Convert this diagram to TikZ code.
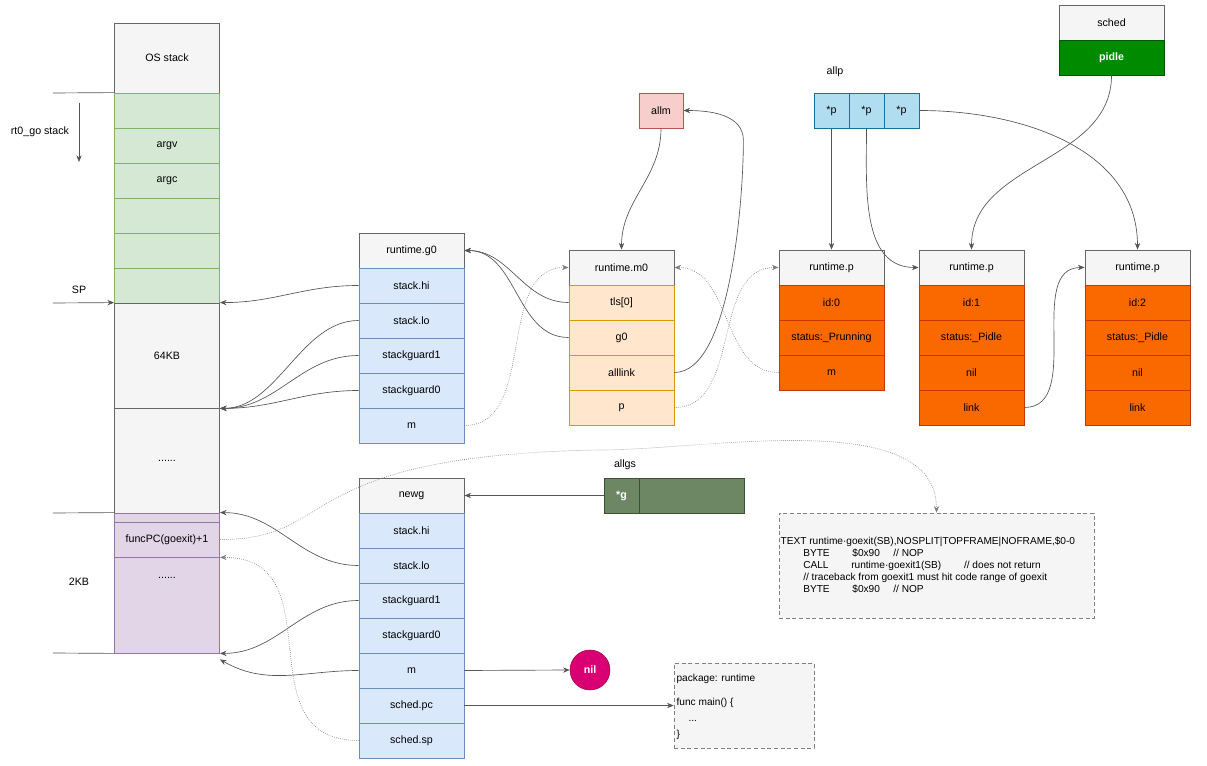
\documentclass[tikz,border=0pt]{standalone}
\usepackage{fontspec}
\setmainfont{Liberation Sans}
\usetikzlibrary{arrows.meta,calc}
\definecolor{hdr}{HTML}{F5F5F5}\definecolor{hdrb}{HTML}{666666}
\definecolor{blu}{HTML}{DAE8FC}\definecolor{blub}{HTML}{6C8EBF}
\definecolor{grn}{HTML}{D5E8D4}\definecolor{grnb}{HTML}{82B366}
\definecolor{lor}{HTML}{FFE6CC}\definecolor{lorb}{HTML}{D79B00}
\definecolor{ora}{HTML}{FA6800}\definecolor{orab}{HTML}{C73500}
\definecolor{pnk}{HTML}{F8CECC}\definecolor{pnkb}{HTML}{B85450}
\definecolor{lbl}{HTML}{B1DDF0}\definecolor{lblb}{HTML}{10739E}
\definecolor{pur}{HTML}{E1D5E7}\definecolor{purb}{HTML}{9673A6}
\definecolor{dgr}{HTML}{6D8764}\definecolor{dgrb}{HTML}{3A5431}
\definecolor{sgr}{HTML}{008A00}\definecolor{sgrb}{HTML}{005700}
\definecolor{mag}{HTML}{D80073}\definecolor{magb}{HTML}{A50040}
\definecolor{ln}{HTML}{555555}
\begin{document}
\begin{tikzpicture}[x=0.75pt,y=-0.75pt,font=\fontsize{8}{10}\selectfont,
 cell/.style={draw,inner sep=0pt,minimum width=78.75pt,minimum height=26.25pt,line width=0.6pt},
 hc/.style={cell,fill=hdr,draw=hdrb},
 bc/.style={cell,fill=blu,draw=blub},
 gc/.style={cell,fill=grn,draw=grnb},
 lc/.style={cell,fill=lor,draw=lorb},
 oc/.style={cell,fill=ora,draw=orab},
 pc/.style={cell,fill=pur,draw=purb},
 conn/.style={draw=ln,line width=0.5pt,-{Stealth[length=5pt,width=4pt]}},
 dconn/.style={conn,densely dotted,draw=gray},
 plain/.style={draw=ln,line width=0.5pt},
 lab/.style={inner sep=1pt}]
\useasboundingbox (0,0) rectangle (1207,766);
% stack column
\node[hc,minimum height=52.5pt] (os) at (167,58) {OS stack};
\node[gc] (g1) at (167,110.5) {};
\node[gc] (g2) at (167,145.5) {argv};
\node[gc] (g3) at (167,180.5) {argc};
\node[gc] (g4) at (167,215.5) {};
\node[gc] (g5) at (167,250.5) {};
\node[gc] (g6) at (167,285.5) {};
\node[hc,minimum height=78.75pt] (s64) at (167,355.5) {64KB};
\node[hc,minimum height=78.75pt] (sdot) at (167,460.5) {......};
\node[pc,minimum height=6.75pt] (pstrip) at (167,517.5) {};
\node[pc] (fpc) at (167,539.5) {funcPC(goexit)+1};
\node[pc,minimum height=72pt] (pdot) at (167,605) {};
\node[lab] at (167,578) {......};
\coordinate (l1) at (53,93); \coordinate (l2) at (53,303);
\coordinate (l3) at (53,513); \coordinate (l4) at (53,653);
\draw[plain] (l1) -- (g1.north west);
\draw[conn] (l2) -- (s64.north west);
\draw[plain] (l3) -- (pstrip.north west);
\draw[plain] (l4) -- (pdot.south west);
\coordinate (ra) at (79,103); \coordinate (rb) at (79,162);
\draw[conn] (ra) -- (rb);
\node[lab] (rt0) at (40,132) {rt0\_go stack};
\node[lab] (sp) at (79,290) {SP};
\node[lab] (kb2) at (79,582) {2KB};
% g0
\node[hc] (g0h) at (411.5,250.5) {runtime.g0};
\node[bc] (g0hi) at (411.5,285.5) {stack.hi};
\node[bc] (g0lo) at (411.5,320.5) {stack.lo};
\node[bc] (g0s1) at (411.5,355.5) {stackguard1};
\node[bc] (g0s0) at (411.5,390.5) {stackguard0};
\node[bc] (g0m) at (411.5,425.5) {m};
% m0
\node[hc] (m0h) at (621.5,267.5) {runtime.m0};
\node[lc] (m0t) at (621.5,302.5) {tls[0]};
\node[lc] (m0g) at (621.5,337.5) {g0};
\node[lc] (m0a) at (621.5,372.5) {alllink};
\node[lc] (m0p) at (621.5,407.5) {p};
% allm
\node[cell,fill=pnk,draw=pnkb,minimum width=33pt] (allm) at (661,110.5) {allm};
% allp
\node[lab] (allplab) at (835,72) {allp};
\node[cell,fill=lbl,draw=lblb,minimum width=26.25pt] (p1) at (831.5,110.5) {*p};
\node[cell,fill=lbl,draw=lblb,minimum width=26.25pt] (p2) at (866.5,110.5) {*p};
\node[cell,fill=lbl,draw=lblb,minimum width=26.25pt] (p3) at (901.5,110.5) {*p};
% sched
\node[hc] (sch) at (1111.5,22.5) {sched};
\node[cell,fill=sgr,draw=sgrb,text=white,font=\fontsize{8}{10}\selectfont\bfseries] (pidle) at (1111.5,57.5) {pidle};
% p0
\node[hc] (q0h) at (831.5,267.5) {runtime.p};
\node[oc] (q0i) at (831.5,302.5) {id:0};
\node[oc] (q0s) at (831.5,337.5) {status:\_Prunning};
\node[oc] (q0m) at (831.5,372.5) {m};
% p1
\node[hc] (q1h) at (971.5,267.5) {runtime.p};
\node[oc] (q1i) at (971.5,302.5) {id:1};
\node[oc] (q1s) at (971.5,337.5) {status:\_Pidle};
\node[oc] (q1n) at (971.5,372.5) {nil};
\node[oc] (q1l) at (971.5,407.5) {link};
% p2
\node[hc] (q2h) at (1137.5,267.5) {runtime.p};
\node[oc] (q2i) at (1137.5,302.5) {id:2};
\node[oc] (q2s) at (1137.5,337.5) {status:\_Pidle};
\node[oc] (q2n) at (1137.5,372.5) {nil};
\node[oc] (q2l) at (1137.5,407.5) {link};
% newg
\node[hc] (ngh) at (411.5,495.5) {newg};
\node[bc] (nghi) at (411.5,530.5) {stack.hi};
\node[bc] (nglo) at (411.5,565.5) {stack.lo};
\node[bc] (ngs1) at (411.5,600.5) {stackguard1};
\node[bc] (ngs0) at (411.5,635.5) {stackguard0};
\node[bc] (ngm) at (411.5,670.5) {m};
\node[bc] (ngpc) at (411.5,705.5) {sched.pc};
\node[bc] (ngsp) at (411.5,740.5) {sched.sp};
% allgs
\node[lab] (allgslab) at (625,465) {allgs};
\node[cell,fill=dgr,draw=dgrb,minimum width=78.75pt] (gsrest) at (691.5,495.5) {};
\node[cell,fill=dgr,draw=dgrb,minimum width=26.25pt,text=white,font=\fontsize{8}{10}\selectfont\bfseries] (gs) at (621.5,495.5) {*g};
% nil
\node[circle,fill=mag,draw=magb,minimum size=30pt,inner sep=0pt,text=white,font=\fontsize{8}{10}\selectfont\bfseries] (nil) at (590,670) {nil};
% code boxes
\node[draw=gray,densely dashed,fill=hdr,minimum width=236.25pt,minimum height=78.75pt,inner sep=0pt] (code1) at (936.5,565.5) {};
\node[anchor=west,align=left,inner sep=1pt,font=\fontsize{7.6}{9}\selectfont] (code1t) at (779,565) {TEXT runtime·goexit(SB),NOSPLIT|TOPFRAME|NOFRAME,\$0-0\\
\hspace*{17pt}BYTE\hspace{17pt}\$0x90\hspace{10pt}// NOP\\
\hspace*{17pt}CALL\hspace{17pt}runtime·goexit1(SB)\hspace{17pt}// does not return\\
\hspace*{17pt}// traceback from goexit1 must hit code range of goexit\\
\hspace*{17pt}BYTE\hspace{17pt}\$0x90\hspace{10pt}// NOP};
\node[draw=gray,densely dashed,fill=hdr,minimum width=105pt,minimum height=63.75pt,inner sep=0pt] (code2) at (744,705.5) {};
\node[anchor=north west,align=left,inner sep=1pt,font=\fontsize{7.6}{12}\selectfont] (code2t) at (675,673) {package: runtime\\[6pt]func main() \{\\\hspace*{9pt}...\\\}};
\coordinate (fk) at (600,450);
% connectors g0
\draw[conn] (g0hi.west) to[out=180,in=0] (s64.north east);
\draw[conn] (g0lo.west) to[out=180,in=0,looseness=0.9] (s64.south east);
\draw[conn] (g0s1.west) to[out=180,in=0] (s64.south east);
\draw[conn] (g0s0.west) to[out=180,in=0] (s64.south east);
\draw[dconn] (g0m.east) to[out=0,in=180] (m0h.west);
\draw[conn] (m0t.west) to[out=180,in=0] (g0h.east);
\draw[conn] (m0g.west) to[out=180,in=0] (g0h.east);
\draw[conn] (allm.south) to[out=270,in=90] (m0h.north);
\draw[conn] (m0a.east) to[out=0,in=270,looseness=0.6] ($(allm.east)+(60,30)$) to[out=90,in=0] (allm.east);
\draw[dconn] (m0p.east) to[out=0,in=180] (q0h.west);
\draw[dconn] (q0m.west) to[out=180,in=0] (m0h.east);
\draw[conn] (p1.south) -- (q0h.north);
\draw[conn] (p2.south) to[out=270,in=180] (q1h.west);
\draw[conn] (p3.east) to[out=0,in=90] (q2h.north);
\draw[conn] (pidle.south) to[out=270,in=90] (q1h.north);
\draw[conn] (q1l.east) to[out=0,in=180] (q2h.west);
% connectors newg
\draw[conn] (nglo.west) to[out=180,in=0] (pstrip.north east);
\draw[conn] (ngs1.west) to[out=180,in=0] (pdot.south east);
\draw[conn] (ngm.west) to[out=180,in=-30] ($(pdot.south east)+(0,6)$);
\draw[dconn] (ngsp.west) to[out=180,in=0,looseness=1.3] (fpc.south east);
\draw[dconn] (fpc.east) .. controls (340,540) and (290,455) .. (fk) to[out=0,in=90,looseness=0.8] (code1.north);
\draw[conn] (gs.west) -- (ngh.east);
\draw[conn] (ngm.east) -- (nil.west);
\draw[conn] (ngpc.east) -- (code2.west);
\end{tikzpicture}
\end{document}
